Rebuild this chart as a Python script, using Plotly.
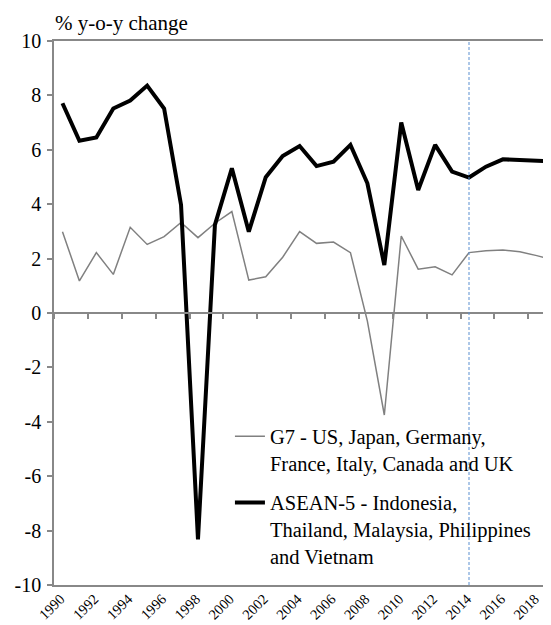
import plotly.graph_objects as go

# data
years = list(range(1990, 2020))
g7 = [2.99, 1.18, 2.22, 1.42, 3.15, 2.52, 2.81, 3.33, 2.77, 3.30,
      3.73, 1.21, 1.33, 2.05, 2.99, 2.56, 2.61, 2.22, -0.30, -3.75,
      2.83, 1.61, 1.70, 1.40, 2.22, 2.29, 2.32, 2.25, 2.11, 1.95]
asean5 = [7.71, 6.33, 6.45, 7.52, 7.81, 8.36, 7.52, 3.97, -8.32, 3.24,
          5.32, 2.99, 4.99, 5.77, 6.14, 5.40, 5.56, 6.18, 4.77, 1.76,
          7.00, 4.52, 6.18, 5.20, 4.98, 5.38, 5.65, 5.62, 5.58, 5.57]
g7_name = 'G7 - US, Japan, Germany,<br>France, Italy, Canada and UK'
asean_name = 'ASEAN-5 - Indonesia,<br>Thailand, Malaysia, Philippines<br>and Vietnam'
label_years = list(range(1990, 2019, 2))
tick_between = [y - 0.5 for y in range(1990, 2020, 2)]
y_ticks = list(range(-10, 11, 2))
forecast_year = 2014

FONT = 'Liberation Serif, Times New Roman, serif'
AXIS_GREY = '#888888'
x_range = [1989.5, 2018.84]

fig = go.Figure()
fig.add_trace(go.Scatter(x=years, y=g7, name=g7_name, mode='lines', legendgroup='g7',
                         line=dict(color='#808080', width=1.5), xaxis='x', yaxis='y'))
fig.add_trace(go.Scatter(x=years, y=asean5, name=asean_name, mode='lines', legendgroup='asean',
                         line=dict(color='black', width=4), xaxis='x2', yaxis='y'))

# dashed marker for the forecast start
fig.add_vline(x=forecast_year, line_color='#5B8FD0', line_width=1, line_dash='3px,2px', layer='above')

# page body has an 8px margin, so the figure is 8px smaller than the window
fig.update_layout(
    width=543, height=617,
    margin=dict(l=46, r=0, t=33, b=40, autoexpand=False),
    paper_bgcolor='white', plot_bgcolor='white',
    font=dict(family=FONT, color='black', size=20),
    showlegend=True,
    legend=dict(x=0.354, y=0.31, xanchor='left', yanchor='top', valign='top',
                bgcolor='rgba(0,0,0,0)', font=dict(size=20.5, family=FONT),
                traceorder='grouped', tracegroupgap=10),
    xaxis=dict(range=x_range, tickvals=label_years, ticktext=[str(y) for y in label_years],
               tickangle=-45, ticks='', showgrid=False, zeroline=False, automargin=False,
               ticklabelshift=-2, ticklabelstandoff=-2,
               showline=True, linecolor=AXIS_GREY, linewidth=1.5, mirror=True,
               tickfont=dict(size=14.5, family=FONT)),
    xaxis2=dict(range=x_range, overlaying='x', anchor='free', position=0.5,
                tickvals=tick_between, showticklabels=False, ticks='outside',
                ticklen=5, tickcolor=AXIS_GREY, tickwidth=1.5, showgrid=False,
                zeroline=False, showline=True, linecolor=AXIS_GREY, linewidth=1.5),
    yaxis=dict(range=[-10, 10], tickvals=y_ticks, ticktext=[str(v) for v in y_ticks],
               ticks='outside', ticklen=5, ticklabelstandoff=2, automargin=False,
               tickcolor=AXIS_GREY, tickwidth=1.5, showgrid=False, zeroline=False,
               showline=True, linecolor=AXIS_GREY, linewidth=1.5,
               tickfont=dict(size=20, family=FONT)),
)

fig.add_annotation(text='% y-o-y change', xref='paper', yref='paper', x=0, y=1,
                   xanchor='left', yanchor='bottom', showarrow=False, xshift=-1, yshift=4,
                   font=dict(size=21, family=FONT))

fig.write_html("out.html")
